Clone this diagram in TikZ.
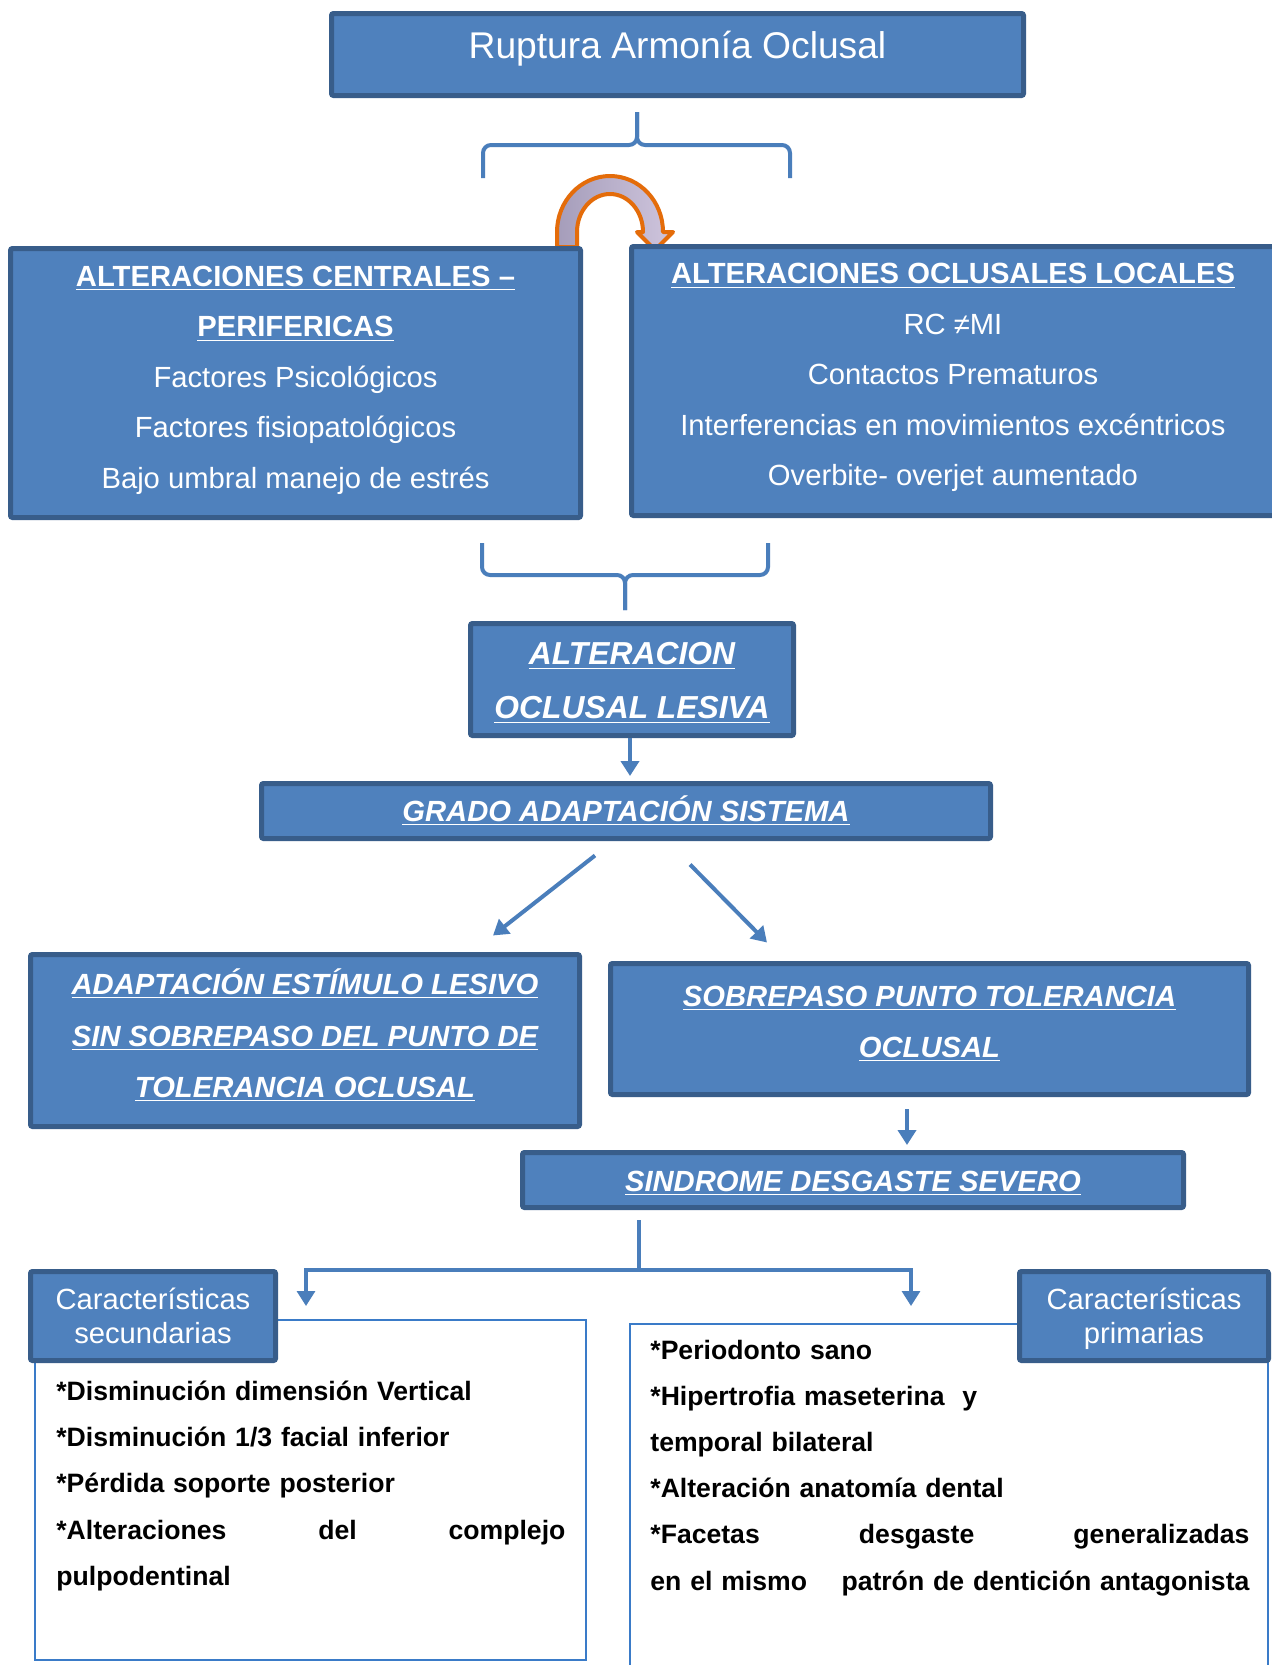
\documentclass[tikz,border=0pt]{standalone}
\usepackage{fontspec}
\setmainfont{Liberation Sans}
\usetikzlibrary{arrows.meta,calc}

\definecolor{boxblue}{HTML}{4F81BD}
\definecolor{boxedge}{HTML}{385D8A}
\definecolor{linkblue}{HTML}{4A7EBB}
\definecolor{frameblue}{HTML}{3A7BC8}
\definecolor{arroworange}{HTML}{E46C0A}
\definecolor{arrowdark}{HTML}{A59DBA}
\definecolor{arrowlight}{HTML}{CFC5DD}

% invisible struts to set the text a little higher or lower in a box
\newcommand{\lowstrut}[1]{\rule[-#1]{0pt}{#1}}
\newcommand{\highstrut}[1]{\rule{0pt}{#1}}

\tikzset{
  blockbox/.style={draw=boxedge,fill=boxblue,line width=2.5pt,rounded corners=1pt,
    text=white,align=center,inner sep=0pt},
  headfont/.style={font=\fontsize{14.6}{25.25}\selectfont},
  tagbox/.style={blockbox,font=\fontsize{14.6}{17}\selectfont},
  listframe/.style={draw=frameblue,line width=1pt,inner sep=0pt},
  listline/.style={font=\fontsize{13.3}{16}\selectfont\bfseries,align=left,anchor=west,
    inner sep=0pt,text height=9.9pt,text depth=3pt},
  conn/.style={draw=linkblue,line width=2pt,-{Triangle[width=9pt,length=7.5pt]}},
  thinconn/.style={draw=linkblue,line width=1.6pt},
  brace/.style={draw=linkblue,line width=2pt,rounded corners=4pt},
  bendarrow/.style={draw=arroworange,line width=2pt,line join=round,
    left color=arrowdark,right color=arrowlight},
}

\begin{document}
\begin{tikzpicture}[x=0.5pt,y=-0.5pt]
  \fill[white] (0,0) rectangle (1271,1665);
  \useasboundingbox (0,0) rectangle (1271,1665);

  % orange arrow between the two upper boxes
  \path[bendarrow] (557,247) -- (557,232)
    arc[start angle=180,end angle=360,x radius=53,y radius=56]
    -- (673,232) -- (655,250) -- (637,232) -- (643,232)
    arc[start angle=360,end angle=180,x radius=33,y radius=38]
    -- (577,247) -- cycle;

  \node[blockbox,minimum width=346pt,minimum height=41pt,font=\fontsize{18.6}{22}\selectfont]
    (ruptura) at (677.5,54.5) {Ruptura Armonía Oclusal\lowstrut{9.2pt}};

  \coordinate (bracetop) at (637,112);
  \draw[brace] (483,178) |- (637,145) -- (bracetop);
  \draw[brace] (790,178) |- (637,145) -- (bracetop);

  \node[blockbox,headfont,minimum width=285pt,minimum height=134.5pt] (central) at (295.5,383)
    {\textbf{\underline{ALTERACIONES CENTRALES –}}\\\textbf{\underline{PERIFERICAS}}\\
     Factores Psicológicos\\Factores fisiopatológicos\\Bajo umbral manejo de estrés\lowstrut{5.8pt}};
  \node[blockbox,headfont,minimum width=321.5pt,minimum height=134.5pt] (locales) at (953,381)
    {\textbf{\underline{ALTERACIONES OCLUSALES LOCALES}}\\RC ≠MI\\Contactos Prematuros\\
     Interferencias en movimientos excéntricos\\Overbite- overjet aumentado\lowstrut{6.3pt}};

  \coordinate (bracelow) at (625,610);
  \draw[brace] (482,543) |- (625,575) -- (bracelow);
  \draw[brace] (768,543) |- (625,575) -- (bracelow);

  \node[blockbox,minimum width=161.5pt,minimum height=56pt,
    font=\fontsize{15.9}{27}\selectfont\bfseries\itshape] (lesiva) at (632,679.5)
    {\highstrut{14.6pt}\underline{ALTERACION}\\\underline{OCLUSAL LESIVA}};
  \node[blockbox,minimum width=364.5pt,minimum height=27.5pt,
    font=\fontsize{14.6}{18}\selectfont\bfseries\itshape] (grado) at (626,811)
    {\underline{GRADO ADAPTACIÓN SISTEMA}};
  \draw[conn] (lesiva.south -| 630,0) -- ++(0,38);

  \node[blockbox,minimum width=274.5pt,minimum height=86pt,
    font=\fontsize{14.6}{25.6}\selectfont\bfseries\itshape] (adapt) at (305,1040.5)
    {\underline{ADAPTACIÓN ESTÍMULO LESIVO}\\\underline{SIN SOBREPASO DEL PUNTO DE}\\
     \underline{TOLERANCIA OCLUSAL}\lowstrut{7.4pt}};
  \node[blockbox,minimum width=319pt,minimum height=65.5pt,
    font=\fontsize{14.6}{25.5}\selectfont\bfseries\itshape] (sobre) at (929.5,1029)
    {\underline{SOBREPASO PUNTO TOLERANCIA}\\\underline{OCLUSAL}\lowstrut{6.9pt}};
  \draw[conn] ($(grado.south)+(-31,14.5)$) -- ($(adapt.north)+(188,-16.5)$);
  \draw[conn] ($(grado.south)+(64,23.5)$) -- ($(sobre.north)+(-162.5,-18.5)$);

  \node[blockbox,minimum width=330.5pt,minimum height=27.5pt,
    font=\fontsize{14.6}{18}\selectfont\bfseries\itshape] (sindrome) at (853,1180)
    {\highstrut{13.7pt}\underline{SINDROME DESGASTE SEVERO}};
  \draw[conn] ($(sobre.south)+(-22.5,12)$) -- ++(0,36);

  % frames of the two lists
  \node[listframe,minimum width=275.5pt,minimum height=170pt] (secframe) at (310.5,1490) {};
  \node[listframe,minimum width=319pt,minimum height=188pt] (primframe) at (949,1512) {};

  \coordinate (fork) at (639,1270);
  \coordinate (secin) at (306,1306);
  \coordinate (primin) at (911,1306);
  \draw[thinconn] ($(sindrome.south)+(-214,10)$) -- (fork);
  \draw[conn,line width=1.6pt] (fork) -| (secin);
  \draw[conn,line width=1.6pt] (fork) -| (primin);

  \node[tagbox,minimum width=122.5pt,minimum height=44.5pt] (secund) at (153,1316)
    {Características\\secundarias};
  \node[tagbox,minimum width=124.5pt,minimum height=44.5pt] (primar) at (1144,1316)
    {Características\\\raisebox{0pt}[\height][0pt]{primarias}};

  \foreach \y/\t [count=\i] in {1394/{*Disminución dimensión Vertical},
      1440/{*Disminución 1/3 facial inferior},1486/{*Pérdida soporte posterior},
      1533/{*Alteraciones\hfill del\hfill complejo},1579/{pulpodentinal}}
    \node[listline,text width=254.5pt] (sec\i) at (56,\y) {\t};

  \foreach \y/\t [count=\i] in {1353/{*Periodonto sano},1399/{*Hipertrofia maseterina~~y},
      1445/{temporal bilateral},1491/{*Alteración anatomía dental},
      1537/{*Facetas\hfill desgaste\hfill generalizadas},
      1584/{en el mismo\hfill patrón de dentición antagonista}}
    \node[listline,text width=299.5pt] (prim\i) at (650,\y) {\t};
\end{tikzpicture}
\end{document}
